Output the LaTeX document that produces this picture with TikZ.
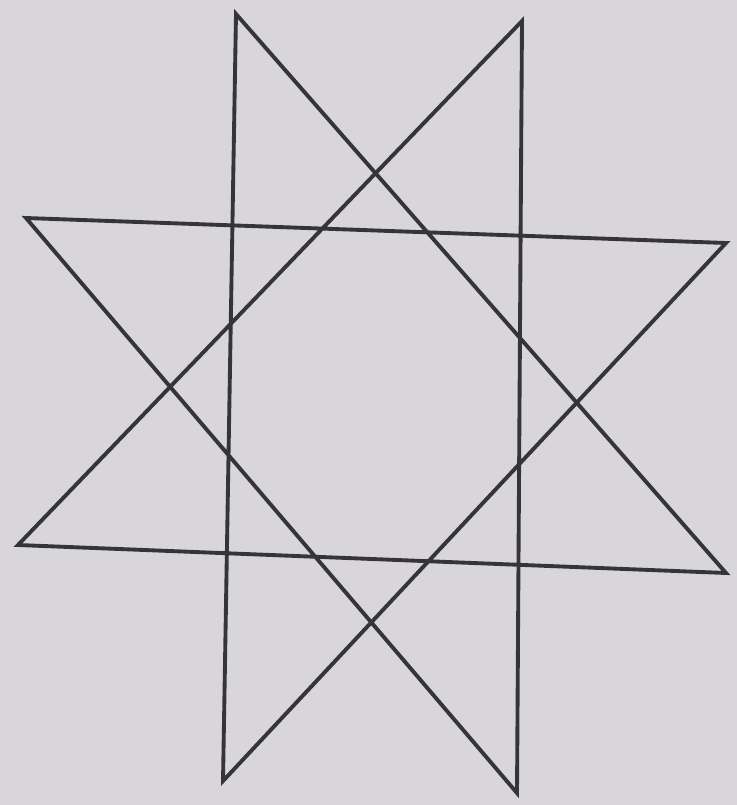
\documentclass[tikz,border=0pt]{standalone}
\usepackage{tikz}
\definecolor{fondGris}{RGB}{216,214,217}
\definecolor{traitGris}{RGB}{52,52,58}

\begin{document}
\begin{tikzpicture}[x=0.02cm,y=-0.02cm,
  etoile/.style={draw=traitGris,line width=2.2pt,line join=miter}]
  \fill[fondGris] (0,0) rectangle (737,805);
  \useasboundingbox (0,0) rectangle (737,805);

  % pointes de l'etoile
  \coordinate (HG) at (236,14);
  \coordinate (HD) at (522,21);
  \coordinate (GH) at (26,218);
  \coordinate (DH) at (726,243);
  \coordinate (GB) at (18,545);
  \coordinate (DB) at (726,573);
  \coordinate (BG) at (223,781);
  \coordinate (BD) at (517,793);

  \draw[etoile] (HG)--(DB)--(GB)--(HD)--(BD)--(GH)--(DH)--(BG)--cycle;
\end{tikzpicture}
\end{document}
